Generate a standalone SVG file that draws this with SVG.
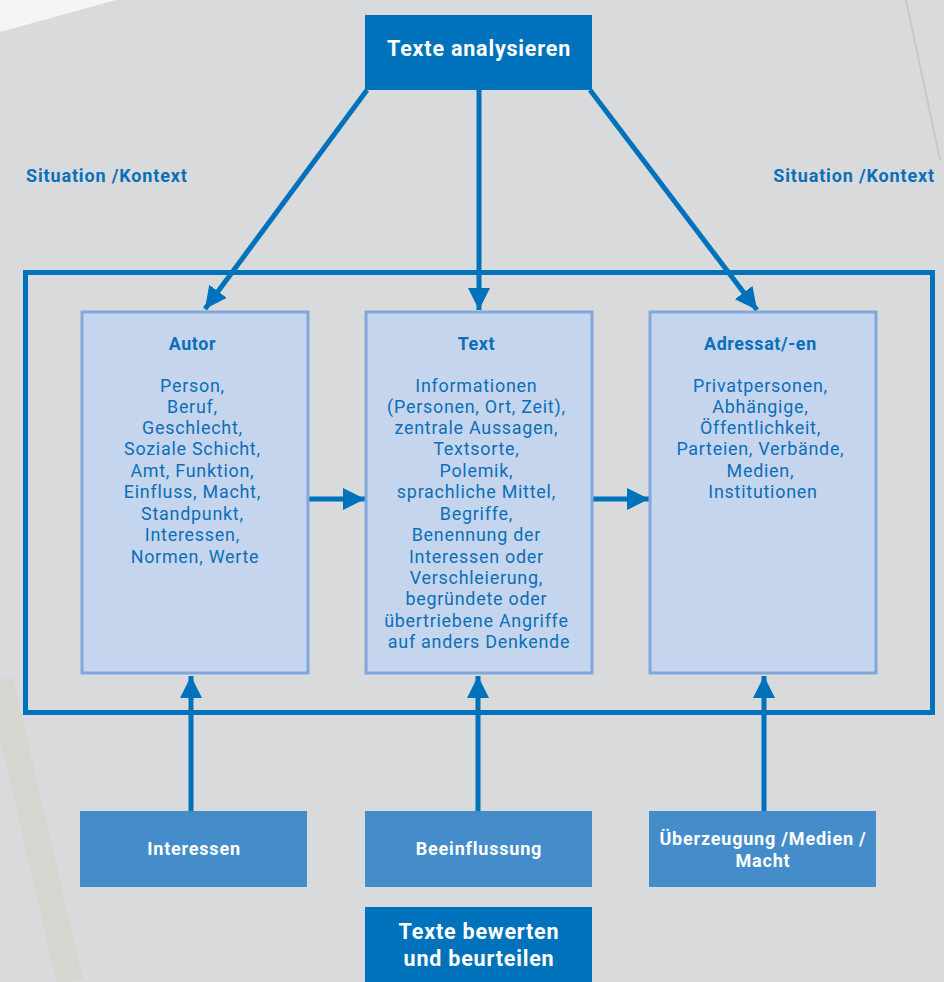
<svg xmlns="http://www.w3.org/2000/svg" width="944" height="982" viewBox="0 0 944 982">
<style>
.dark{fill:#0071bb}
.mid{fill:#448dca}
.light{fill:#c5d5ee;stroke:#80a8dc;stroke-width:3}
.wt{fill:#ffffff;font-family:Roboto,"Liberation Sans",sans-serif;font-weight:bold;text-anchor:middle;letter-spacing:0.8px}
.bt{fill:#0a6fb8;font-family:Roboto,"Liberation Sans",sans-serif;text-anchor:middle;font-size:17.9px;letter-spacing:0.75px}
.bh{font-weight:bold;font-size:17.9px;letter-spacing:0.6px}
.ctx{fill:#0a6fb8;font-family:Roboto,"Liberation Sans",sans-serif;font-weight:bold;font-size:18px;letter-spacing:0.85px}
.ln{stroke:#0071bb;stroke-width:5;fill:none}
</style>
<defs>
<marker id="ah" viewBox="0 0 10 10" refX="10" refY="5" markerWidth="4.4" markerHeight="4.4" orient="auto" markerUnits="strokeWidth">
<path d="M0,0 L10,5 L0,10 Z" fill="#0071bb"/>
</marker>
</defs>
<rect width="944" height="982" fill="#d9dadb"/>
<polygon points="0,0 116,0 0,32" fill="#f5f5f3"/>
<path d="M906,0 L940,160" stroke="#c8cac8" stroke-width="2" fill="none"/>
<path d="M0,680 L70,982" stroke="#d2cfc4" stroke-width="26" fill="none" opacity="0.45"/>

<text class="ctx" x="26" y="182">Situation /Kontext</text>
<text class="ctx" x="935" y="182" text-anchor="end">Situation /Kontext</text>

<g id="connectors">
<rect x="25.5" y="272.5" width="907" height="440" class="ln"/>
<line x1="367" y1="90" x2="205" y2="309" class="ln" marker-end="url(#ah)"/>
<line x1="479" y1="90" x2="479" y2="310" class="ln" marker-end="url(#ah)"/>
<line x1="590" y1="90" x2="757" y2="310" class="ln" marker-end="url(#ah)"/>
<line x1="309" y1="499" x2="365" y2="499" class="ln" marker-end="url(#ah)"/>
<line x1="593" y1="499" x2="649" y2="499" class="ln" marker-end="url(#ah)"/>
<line x1="191" y1="811" x2="191" y2="676" class="ln" marker-end="url(#ah)"/>
<line x1="478" y1="811" x2="478" y2="676" class="ln" marker-end="url(#ah)"/>
<line x1="764" y1="811" x2="764" y2="676" class="ln" marker-end="url(#ah)"/>
</g>

<g id="top">
<rect x="365" y="15" width="227" height="75" class="dark"/>
<text class="wt" x="479" y="56" font-size="21.5">Texte analysieren</text>
</g>

<g id="autor">
<rect x="82" y="312" width="226" height="361" class="light"/>
<text class="bt" x="195">
<tspan class="bh" x="195" y="350">Autor</tspan>
<tspan x="195" y="392">Person,</tspan>
<tspan x="195" y="413">Beruf,</tspan>
<tspan x="195" y="434">Geschlecht,</tspan>
<tspan x="195" y="455">Soziale Schicht,</tspan>
<tspan x="195" y="477">Amt, Funktion,</tspan>
<tspan x="195" y="498">Einfluss, Macht,</tspan>
<tspan x="195" y="520">Standpunkt,</tspan>
<tspan x="195" y="541">Interessen,</tspan>
<tspan x="195" y="563">Normen, Werte</tspan>
</text>
</g>

<g id="text">
<rect x="366" y="312" width="226" height="361" class="light"/>
<text class="bt" x="479">
<tspan class="bh" x="479" y="350">Text</tspan>
<tspan x="479" y="392">Informationen</tspan>
<tspan x="479" y="413">(Personen, Ort, Zeit),</tspan>
<tspan x="479" y="434">zentrale Aussagen,</tspan>
<tspan x="479" y="455">Textsorte,</tspan>
<tspan x="479" y="477">Polemik,</tspan>
<tspan x="479" y="498">sprachliche Mittel,</tspan>
<tspan x="479" y="520">Begriffe,</tspan>
<tspan x="479" y="541">Benennung der</tspan>
<tspan x="479" y="563">Interessen oder</tspan>
<tspan x="479" y="584">Verschleierung,</tspan>
<tspan x="479" y="605">begründete oder</tspan>
<tspan x="479" y="627">übertriebene Angriffe</tspan>
<tspan x="479" y="648">auf anders Denkende</tspan>
</text>
</g>

<g id="adressat">
<rect x="650" y="312" width="226" height="361" class="light"/>
<text class="bt" x="763">
<tspan class="bh" x="763" y="350">Adressat/-en</tspan>
<tspan x="763" y="392">Privatpersonen,</tspan>
<tspan x="763" y="413">Abhängige,</tspan>
<tspan x="763" y="434">Öffentlichkeit,</tspan>
<tspan x="763" y="455">Parteien, Verbände,</tspan>
<tspan x="763" y="477">Medien,</tspan>
<tspan x="763" y="498">Institutionen</tspan>
</text>
</g>

<g id="interessen">
<rect x="80" y="811" width="227" height="76" class="mid"/>
<text class="wt" x="194" y="855" font-size="18" letter-spacing="0.4">Interessen</text>
</g>

<g id="beeinflussung">
<rect x="365" y="811" width="227" height="76" class="mid"/>
<text class="wt" x="479" y="855" font-size="18" letter-spacing="0.4">Beeinflussung</text>
</g>

<g id="ueberzeugung">
<rect x="649" y="811" width="227" height="76" class="mid"/>
<text class="wt" x="763" y="845" font-size="18">Überzeugung /Medien /</text>
<text class="wt" x="763" y="867" font-size="18">Macht</text>
</g>

<g id="bewerten">
<rect x="365" y="907" width="227" height="75" class="dark"/>
<text class="wt" x="479" y="939" font-size="21.5" letter-spacing="1">Texte bewerten</text>
<text class="wt" x="479" y="966" font-size="21.5" letter-spacing="1">und beurteilen</text>
</g>
</svg>
